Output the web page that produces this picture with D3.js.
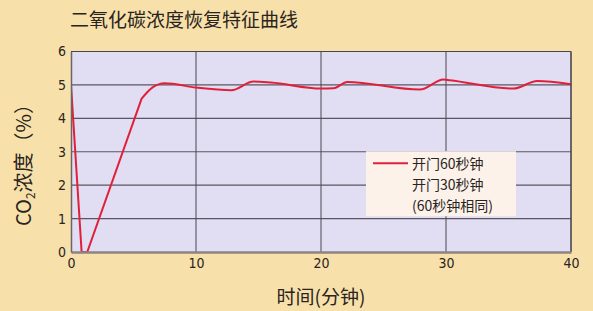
<!DOCTYPE html>
<html>
<head>
<meta charset="utf-8">
<script src="https://cdn.jsdelivr.net/npm/d3@7"></script>
<style>
  html, body { margin: 0; padding: 0; background: #f7e0aa; }
  svg { display: block; }
  .cjk { font-family: "Noto Sans CJK SC", sans-serif; fill: #2a2420; }
  .tick text { font-family: "Liberation Sans Narrow", "DejaVu Sans Condensed", sans-serif; font-size: 14px; fill: #2a2420; }
</style>
</head>
<body>
<svg id="chart" width="593" height="311"></svg>
<script>
// time (minutes) and CO2 concentration (%)
// first part: door open, straight drop and refill
var dropMinutes = [0, 0.85, 1.3, 5.65];
var dropCo2 = [5, 0, 0, 4.59];
// second part: smooth regulation around 5%
var holdMinutes = [5.65, 6.5, 7.5, 10, 12.85, 14.6, 16, 20, 21, 22.1, 27.9, 29.8, 30.3, 35.4, 37.3, 40];
var holdCo2 = [4.59, 4.92, 5.05, 4.92, 4.84, 5.1, 5.07, 4.89, 4.9, 5.09, 4.86, 5.16, 5.14, 4.89, 5.12, 5.02];
var xTicks = [0, 10, 20, 30, 40];
var yTicks = [0, 1, 2, 3, 4, 5, 6];
var legendLines = ["开门60秒钟", "开门30秒钟", "(60秒钟相同)"];

var margin = {top: 51.5, right: 22, bottom: 59, left: 71};
var width = 593 - margin.left - margin.right;
var height = 311 - margin.top - margin.bottom;

var svg = d3.select("#chart");
var g = svg.append("g")
  .attr("transform", "translate(" + margin.left + "," + margin.top + ")");

var x = d3.scaleLinear().domain([0, 40]).range([0, width]);
var y = d3.scaleLinear().domain([0, 6]).range([height, 0]);

// plot background
g.append("rect")
  .attr("width", width)
  .attr("height", height)
  .attr("fill", "#e1ddf2");

// grid lines
g.selectAll(".hgrid")
  .data(yTicks.filter(function(d) { return d > 0; }))
  .enter().append("line")
  .attr("x1", 0).attr("x2", width)
  .attr("y1", function(d) { return y(d); })
  .attr("y2", function(d) { return y(d); })
  .attr("stroke", "#5a5660").attr("stroke-width", 1.2);

g.selectAll(".vgrid")
  .data(xTicks.filter(function(d) { return d > 0; }))
  .enter().append("line")
  .attr("y1", 0).attr("y2", height)
  .attr("x1", function(d) { return x(d); })
  .attr("x2", function(d) { return x(d); })
  .attr("stroke", "#4a4650").attr("stroke-width", 1);

// legend box
var legend = g.append("g").attr("transform", "translate(" + (x(23.6)) + "," + (y(3)) + ")");
legend.append("rect")
  .attr("x", 0).attr("y", -0.5)
  .attr("width", 150).attr("height", 65)
  .attr("fill", "#fcf2ea");
legend.append("line")
  .attr("x1", 7).attr("x2", 42)
  .attr("y1", 11.5).attr("y2", 11.5)
  .attr("stroke", "#e0203a").attr("stroke-width", 2);
legend.selectAll("text")
  .data(legendLines)
  .enter().append("text")
  .attr("class", "cjk")
  .attr("x", 46)
  .attr("y", function(d, i) { return 17 + i * 21; })
  .attr("font-size", 14)
  .text(function(d) { return d; });

// data line
g.append("clipPath").attr("id", "clip")
  .append("rect").attr("width", width).attr("height", height);

var dropLine = d3.line()
  .x(function(d, i) { return x(dropMinutes[i]); })
  .y(function(d) { return y(d); });

var holdLine = d3.line()
  .x(function(d, i) { return x(holdMinutes[i]); })
  .y(function(d) { return y(d); })
  .curve(d3.curveMonotoneX);

g.append("path")
  .attr("clip-path", "url(#clip)")
  .attr("fill", "none")
  .attr("stroke", "#e0203a")
  .attr("stroke-width", 2)
  .attr("stroke-linejoin", "round")
  .attr("d", dropLine(dropCo2) + holdLine(holdCo2).replace(/^M/, "L"));

// frame: top and right
g.append("line").attr("x1", 0).attr("x2", width).attr("y1", 0).attr("y2", 0)
  .attr("stroke", "#4a4650").attr("stroke-width", 1.2);
g.append("line").attr("x1", width).attr("x2", width).attr("y1", 0).attr("y2", height)
  .attr("stroke", "#4a4650").attr("stroke-width", 1.2);

// axes
var xAxis = g.append("g")
  .attr("transform", "translate(0," + height + ")")
  .call(d3.axisBottom(x).tickValues(xTicks).tickFormat(d3.format("d")).tickSize(0).tickPadding(6));
xAxis.select(".domain").attr("stroke", "#8c8480").attr("stroke-width", 2.5);

var yAxis = g.append("g")
  .call(d3.axisLeft(y).tickValues(yTicks).tickFormat(d3.format("d")).tickSize(0).tickPadding(5));
yAxis.select(".domain").attr("stroke", "#6a6468").attr("stroke-width", 1.5);

// title and axis labels
svg.append("text")
  .attr("class", "cjk")
  .attr("x", 70).attr("y", 27)
  .attr("font-size", 19)
  .text("二氧化碳浓度恢复特征曲线");

svg.append("text")
  .attr("class", "cjk")
  .attr("x", margin.left + x(20)).attr("y", 304)
  .attr("text-anchor", "middle")
  .attr("font-size", 19)
  .text("时间(分钟)");

var yLabel = svg.append("text")
  .attr("class", "cjk")
  .attr("transform", "translate(31,160) rotate(-90)")
  .attr("text-anchor", "middle")
  .attr("font-size", 20);
yLabel.append("tspan").text("CO");
yLabel.append("tspan").attr("font-size", 12).attr("dy", 4).text("2");
yLabel.append("tspan").attr("dy", -4).text("浓度（%）");
</script>
</body>
</html>
